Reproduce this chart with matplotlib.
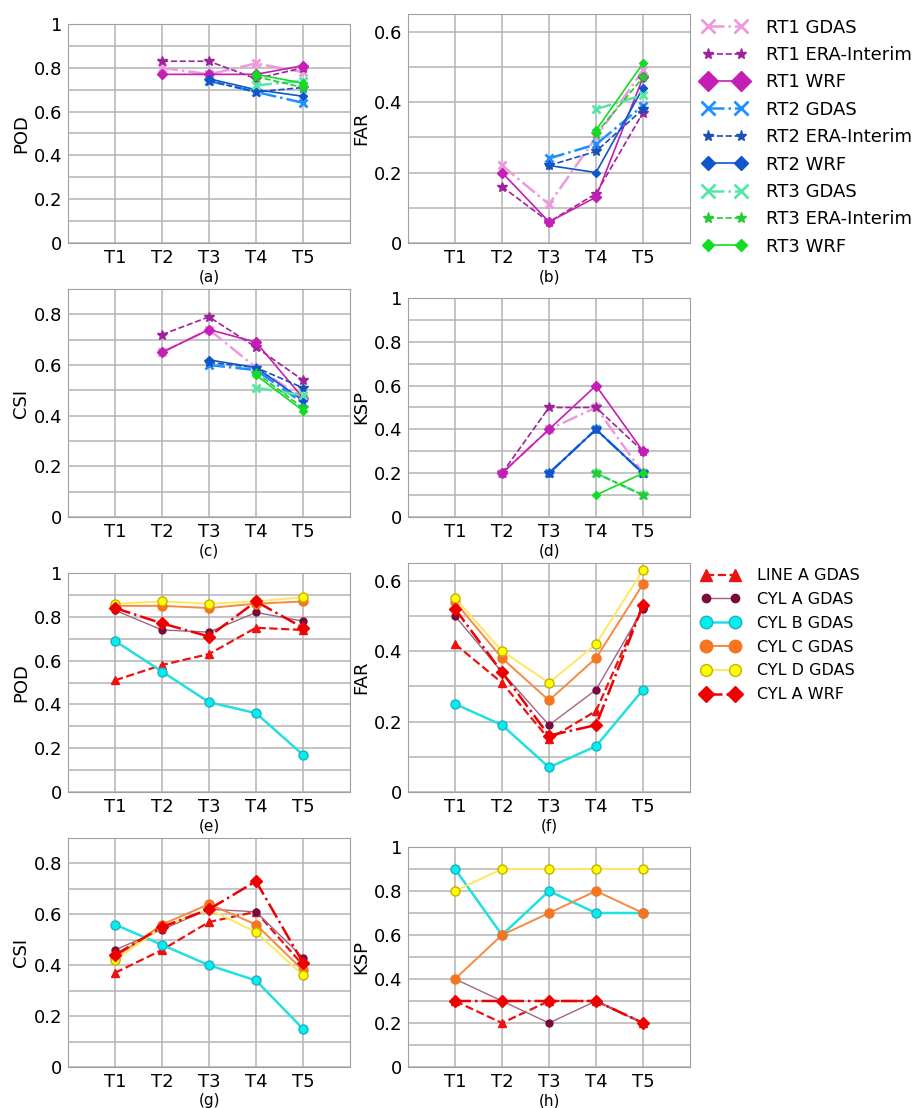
import numpy as np
import matplotlib
matplotlib.use('Agg')
import matplotlib.pyplot as plt
from matplotlib.ticker import MultipleLocator, FuncFormatter

nan = np.nan
times = ['T1', 'T2', 'T3', 'T4', 'T5']

# upper block: RT1..RT3 with GDAS / ERA-Interim / WRF forcing
rt_labels = ['RT1 GDAS', 'RT1 ERA-Interim', 'RT1 WRF',
             'RT2 GDAS', 'RT2 ERA-Interim', 'RT2 WRF',
             'RT3 GDAS', 'RT3 ERA-Interim', 'RT3 WRF']

rt_pod = [
    [nan, 0.80, 0.77, 0.82, 0.78],
    [nan, 0.83, 0.83, 0.75, 0.80],
    [nan, 0.77, 0.77, 0.77, 0.81],
    [nan, nan, 0.74, 0.69, 0.64],
    [nan, nan, 0.74, 0.69, 0.71],
    [nan, nan, 0.75, 0.70, 0.67],
    [nan, nan, nan, 0.72, 0.74],
    [nan, nan, nan, 0.76, 0.71],
    [nan, nan, nan, 0.77, 0.73],
]
rt_far = [
    [nan, 0.22, 0.11, 0.30, 0.49],
    [nan, 0.16, 0.06, 0.14, 0.37],
    [nan, 0.20, 0.06, 0.13, 0.47],
    [nan, nan, 0.24, 0.28, 0.39],
    [nan, nan, 0.22, 0.26, 0.38],
    [nan, nan, 0.22, 0.20, 0.44],
    [nan, nan, nan, 0.38, 0.42],
    [nan, nan, nan, 0.31, 0.47],
    [nan, nan, nan, 0.32, 0.51],
]
rt_csi = [
    [nan, 0.65, 0.74, 0.59, 0.47],
    [nan, 0.72, 0.79, 0.67, 0.54],
    [nan, 0.65, 0.74, 0.69, 0.47],
    [nan, nan, 0.60, 0.58, 0.45],
    [nan, nan, 0.61, 0.59, 0.51],
    [nan, nan, 0.62, 0.59, 0.46],
    [nan, nan, nan, 0.51, 0.48],
    [nan, nan, nan, 0.57, 0.43],
    [nan, nan, nan, 0.56, 0.42],
]
rt_ksp = [
    [nan, 0.2, 0.4, 0.5, 0.2],
    [nan, 0.2, 0.5, 0.5, 0.3],
    [nan, 0.2, 0.4, 0.6, 0.3],
    [nan, nan, 0.2, 0.4, 0.2],
    [nan, nan, 0.2, 0.4, 0.2],
    [nan, nan, 0.2, 0.4, 0.2],
    [nan, nan, nan, 0.2, 0.1],
    [nan, nan, nan, 0.2, 0.1],
    [nan, nan, nan, 0.1, 0.2],
]

# lower block: line / cylinder tests
cyl_labels = ['LINE A GDAS', 'CYL A GDAS', 'CYL B GDAS', 'CYL C GDAS', 'CYL D GDAS', 'CYL A WRF']
cyl_pod = [
    [0.51, 0.58, 0.63, 0.75, 0.74],
    [0.83, 0.74, 0.73, 0.82, 0.78],
    [0.69, 0.55, 0.41, 0.36, 0.17],
    [0.85, 0.85, 0.84, 0.86, 0.87],
    [0.86, 0.87, 0.86, 0.87, 0.89],
    [0.84, 0.77, 0.71, 0.87, 0.75],
]
cyl_far = [
    [0.42, 0.31, 0.15, 0.23, 0.53],
    [0.50, 0.34, 0.19, 0.29, 0.52],
    [0.25, 0.19, 0.07, 0.13, 0.29],
    [0.54, 0.38, 0.26, 0.38, 0.59],
    [0.55, 0.40, 0.31, 0.42, 0.63],
    [0.52, 0.34, 0.16, 0.19, 0.53],
]
cyl_csi = [
    [0.37, 0.46, 0.57, 0.61, 0.40],
    [0.46, 0.54, 0.62, 0.61, 0.43],
    [0.56, 0.48, 0.40, 0.34, 0.15],
    [0.43, 0.56, 0.64, 0.56, 0.38],
    [0.42, 0.55, 0.62, 0.53, 0.36],
    [0.44, 0.55, 0.62, 0.73, 0.41],
]
cyl_ksp = [
    [0.3, 0.2, 0.3, 0.3, 0.2],
    [0.4, 0.3, 0.2, 0.3, 0.2],
    [0.9, 0.6, 0.8, 0.7, 0.7],
    [0.4, 0.6, 0.7, 0.8, 0.7],
    [0.8, 0.9, 0.9, 0.9, 0.9],
    [0.3, 0.3, 0.3, 0.3, 0.2],
]

rt_styles = [
    dict(color='#EE99DD', ls='-.', marker='x', ms=6, mew=2, lw=1.8),
    dict(color='#A0229A', ls='--', marker='*', ms=7, lw=1.2),
    dict(color='#C41EB4', ls='-', marker='D', ms=5, lw=1.2),
    dict(color='#1E90FF', ls='-.', marker='x', ms=6, mew=2, lw=1.8),
    dict(color='#1C4FB8', ls='--', marker='*', ms=7, lw=1.2),
    dict(color='#0F55CC', ls='-', marker='D', ms=4.5, lw=1.2),
    dict(color='#55E8A5', ls='-.', marker='x', ms=6, mew=2, lw=1.8),
    dict(color='#22CC33', ls='--', marker='*', ms=7, lw=1.2),
    dict(color='#11DD22', ls='-', marker='D', ms=4.5, lw=1.2),
]
cyl_styles = [
    dict(color='#EE1111', ls='--', marker='^', ms=6, lw=1.6),
    dict(color='#A06585', ls='-', marker='o', ms=5, mfc='#7A0A3A', mec='#7A0A3A', lw=1.0),
    dict(color='#22E0E0', ls='-', marker='o', ms=6.5, mfc='#00F0F0', mec='#20B0C0', lw=1.8),
    dict(color='#F58A45', ls='-', marker='o', ms=6.5, mfc='#F57520', mec='#F57520', lw=1.4),
    dict(color='#FFE860', ls='-', marker='o', ms=6.5, mfc='#FFFF00', mec='#C8B000', lw=1.4),
    dict(color='#EE0000', ls='-.', marker='D', ms=6, lw=1.8),
]

# marker sizes used in the legends (they are drawn larger than in the panels)
rt_legend_ms = [10, 8, 10, 10, 8, 7, 10, 8, 6]
cyl_legend_ms = [9, 6, 9, 9, 8.5, 8.5]


def fmt_tick(v, _):
    return '{:g}'.format(round(v, 2))


def setup_axes(rect, ylab, letter, ytop):
    fig_w, fig_h = 921.0, 1108.0
    x0, y_top, x1, y_bot = rect
    ax = fig.add_axes([x0 / fig_w, 1 - y_bot / fig_h, (x1 - x0) / fig_w, (y_bot - y_top) / fig_h])
    ax.set_xlim(0, 6)
    ax.set_ylim(0, ytop)
    ax.set_xticks(range(1, 6))
    ax.set_xticklabels(times)
    ax.yaxis.set_major_locator(MultipleLocator(0.2))
    ax.yaxis.set_minor_locator(MultipleLocator(0.1))
    ax.yaxis.set_major_formatter(FuncFormatter(fmt_tick))
    ax.grid(True, which='both', color='#b4b4b4', lw=1.1)
    ax.set_axisbelow(True)
    ax.tick_params(which='both', length=0, labelsize=13, pad=4)
    for s in ax.spines.values():
        s.set_color('#a0a0a0')
    ax.set_ylabel(ylab, fontsize=13, labelpad=3)
    ax.set_xlabel(letter, fontsize=11, labelpad=2)
    return ax


def draw(ax, data, styles, labels):
    x = np.arange(1, 6)
    for vals, st, lab in zip(data, styles, labels):
        ax.plot(x, vals, label=lab, **st)


fig = plt.figure(figsize=(9.21, 11.08), dpi=100)

ax_a = setup_axes((68, 24, 350, 243), 'POD', '(a)', 1.0)
ax_b = setup_axes((408, 14, 690, 243), 'FAR', '(b)', 0.65)
ax_c = setup_axes((68, 289, 350, 517), 'CSI', '(c)', 0.9)
ax_d = setup_axes((408, 298, 690, 517), 'KSP', '(d)', 1.0)
ax_e = setup_axes((68, 573, 350, 792), 'POD', '(e)', 1.0)
ax_f = setup_axes((408, 563, 690, 792), 'FAR', '(f)', 0.65)
ax_g = setup_axes((68, 838, 350, 1067), 'CSI', '(g)', 0.9)
ax_h = setup_axes((408, 847, 690, 1067), 'KSP', '(h)', 1.0)

draw(ax_a, rt_pod, rt_styles, rt_labels)
draw(ax_b, rt_far, rt_styles, rt_labels)
draw(ax_c, rt_csi, rt_styles, rt_labels)
draw(ax_d, rt_ksp, rt_styles, rt_labels)
draw(ax_e, cyl_pod, cyl_styles, cyl_labels)
draw(ax_f, cyl_far, cyl_styles, cyl_labels)
draw(ax_g, cyl_csi, cyl_styles, cyl_labels)
draw(ax_h, cyl_ksp, cyl_styles, cyl_labels)

h1, l1 = ax_a.get_legend_handles_labels()
leg1 = fig.legend(h1, l1, loc='upper left', bbox_to_anchor=(690 / 921.0, 1 - 6 / 1108.0),
                  frameon=False, fontsize=13, numpoints=2,
                  handlelength=2.4, handletextpad=1.1, labelspacing=0.52, borderpad=0.2)
for hd, ms in zip(leg1.legend_handles, rt_legend_ms):
    hd.set_markersize(ms)

h2, l2 = ax_e.get_legend_handles_labels()
leg2 = fig.legend(h2, l2, loc='upper left', bbox_to_anchor=(690 / 921.0, 1 - 557 / 1108.0),
                  frameon=False, fontsize=11.5, numpoints=2,
                  handlelength=2.4, handletextpad=1.1, labelspacing=0.55, borderpad=0.2)
for hd, ms in zip(leg2.legend_handles, cyl_legend_ms):
    hd.set_markersize(ms)

fig.savefig('out.png', dpi=100)
